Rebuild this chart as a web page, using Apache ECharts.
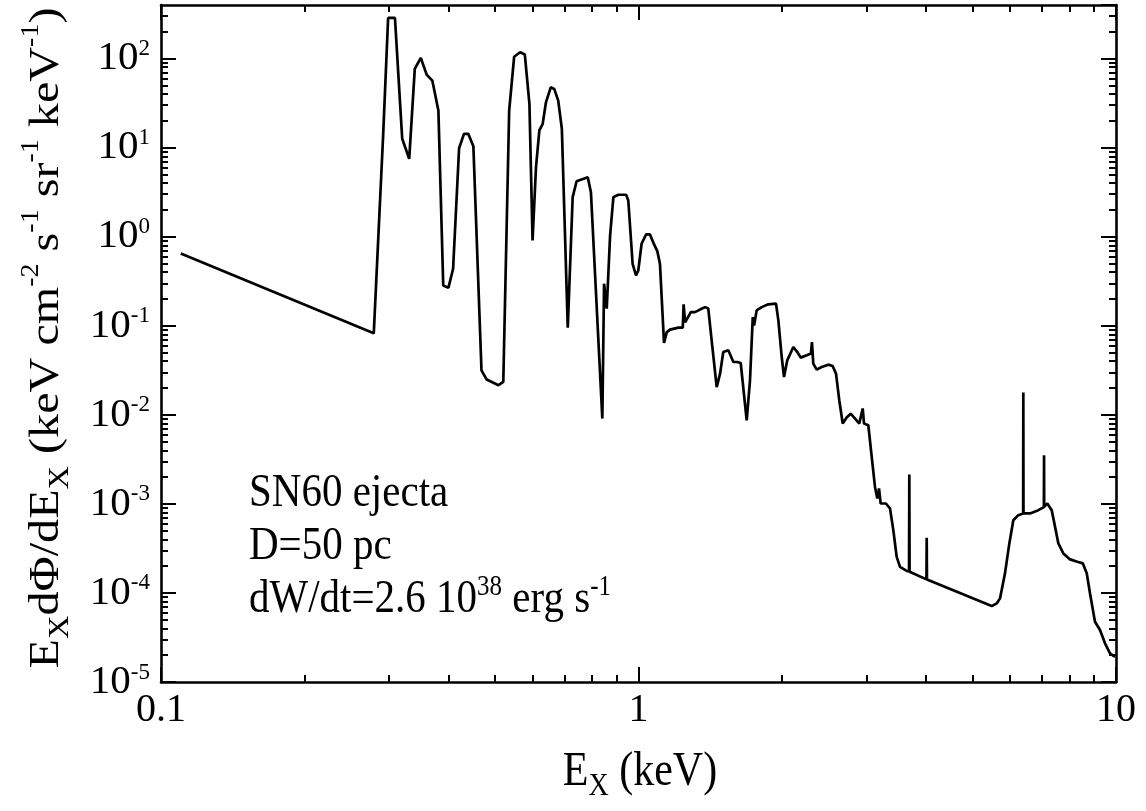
<!DOCTYPE html>
<html>
<head>
<meta charset="utf-8">
<title>SN60 ejecta spectrum</title>
<script src="https://cdn.jsdelivr.net/npm/echarts@6/dist/echarts.min.js"></script>
<style>
  html, body { margin: 0; padding: 0; background: #fff; }
  #main { width: 1146px; height: 811px; }
</style>
</head>
<body>
<div id="main"></div>
<script>
// photon energy (keV) and E dPhi/dE (keV cm^-2 s^-1 sr^-1 keV^-1)
var energy = [
  0.110, 0.279, 0.292, 0.299, 0.309, 0.320, 0.331, 0.340, 0.350, 0.360,
  0.370, 0.381, 0.390, 0.400, 0.409, 0.421, 0.431, 0.440, 0.451, 0.469,
  0.481, 0.509, 0.521, 0.536, 0.549, 0.565, 0.578, 0.591, 0.600, 0.610,
  0.620, 0.630, 0.640, 0.655, 0.666, 0.679, 0.691, 0.711, 0.728, 0.742,
  0.783, 0.795, 0.840, 0.847, 0.858, 0.872, 0.886, 0.907, 0.942, 0.952,
  0.972, 0.988, 0.999, 1.015, 1.037, 1.057, 1.078, 1.095, 1.109, 1.131,
  1.146, 1.164, 1.212, 1.238, 1.243, 1.252, 1.287, 1.313, 1.345, 1.378,
  1.400, 1.428, 1.458, 1.482, 1.505, 1.542, 1.580, 1.610, 1.637, 1.685,
  1.712, 1.735, 1.746, 1.768, 1.811, 1.870, 1.941, 1.963, 1.995, 2.017,
  2.049, 2.110, 2.151, 2.186, 2.250, 2.297, 2.308, 2.323, 2.361, 2.419,
  2.497, 2.550, 2.592, 2.633, 2.677, 2.729, 2.782, 2.841, 2.900, 2.948,
  2.967, 3.029, 3.079, 3.128, 3.163, 3.189, 3.215, 3.298, 3.363, 3.417,
  3.473, 3.529, 3.645, 3.686, 3.691, 3.696, 4.009, 4.014, 4.019, 5.491,
  5.626, 5.716, 5.763, 5.855, 5.979, 6.095, 6.243, 6.391, 6.396, 6.401,
  6.606, 6.876, 7.063, 7.068, 7.073, 7.181, 7.335, 7.454, 7.573, 7.757,
  8.013, 8.299, 8.519, 8.684, 8.823, 9.036, 9.257, 9.484, 9.714, 9.950
];
var flux = [
  0.649, 0.0822, 14.4, 286, 286, 12.6, 7.50, 76.6, 102, 66.2,
  56.7, 26.1, 0.284, 0.268, 0.437, 9.86, 14.3, 14.3, 10.4, 0.0316,
  0.0249, 0.0215, 0.0234, 26.1, 105, 118, 111, 31.0, 0.908, 6.03,
  15.6, 18.5, 32.3, 47.6, 45.7, 33.8, 16.3, 0.0953, 2.78, 4.20,
  4.66, 3.16, 0.00908, 0.297, 0.156, 1.03, 2.78, 2.96, 2.96, 2.55,
  0.497, 0.368, 0.418, 0.834, 1.06, 1.06, 0.819, 0.689, 0.497, 0.0640,
  0.0850, 0.0904, 0.0953, 0.0953, 0.174, 0.109, 0.1425, 0.1425, 0.152, 0.162,
  0.156, 0.0577, 0.0205, 0.0290, 0.0507, 0.0530, 0.0392, 0.0392, 0.0382, 0.00869,
  0.0244, 0.125, 0.101, 0.149, 0.162, 0.174, 0.177, 0.115, 0.0446, 0.0266,
  0.0409, 0.0577, 0.0507, 0.0439, 0.0466, 0.0487, 0.0657, 0.0376, 0.0322, 0.0344,
  0.0366, 0.0353, 0.0290, 0.0146, 0.00798, 0.00932, 0.0103, 0.00908, 0.00798, 0.0118,
  0.00798, 0.00764, 0.00337, 0.00155, 0.00115, 0.00149, 0.00101, 0.00101, 0.000888, 0.000507,
  0.000254, 0.000196, 0.000177, 0.000175, 0.00214, 0.000173, 0.000142, 0.000416, 0.000142, 0.0000712,
  0.0000763, 0.0000869, 0.000108, 0.000166, 0.000360, 0.000656, 0.000747, 0.000780, 0.0178, 0.000781,
  0.000781, 0.000850, 0.000920, 0.00352, 0.000925, 0.00101, 0.000850, 0.000552, 0.000360, 0.000278,
  0.000238, 0.000224, 0.000215, 0.000166, 0.0000988, 0.0000475, 0.0000383, 0.0000272, 0.0000210, 0.0000192
];

var xMin = 0.1, xMax = 10;
var yMin = 1e-5, yMax = 400;
var xDecades = [0.1, 1];
var yDecades = [1e-5, 1e-4, 1e-3, 1e-2, 1e-1, 1, 10, 100];
var minorSteps = [2, 3, 4, 5, 6, 7, 8, 9];
var xTitle = 'E{sub|X} (keV)';
var yTitle = 'E{sub|X}d\u03A6/dE{sub|X} (keV cm{sup|-2} s{sup|-1} sr{sup|-1} keV{sup|-1})';
var notes = ['SN60 ejecta', 'D=50 pc', 'dW/dt=2.6 10{sup|38} erg s{sup|-1}'];

var FONT = 'Liberation Serif';
var BLACK = '#000';
// the source lettering is a little taller than wide
var STRETCH = 1.15;

function minorTicks(decades, hi) {
  var out = [];
  decades.forEach(function (d) {
    minorSteps.forEach(function (k) {
      var v = k * d;
      if (v < hi) out.push(Math.log10(v));
    });
  });
  return out;
}

var xMinorLog = minorTicks(xDecades, xMax);
var yMinorLog = minorTicks(yDecades, yMax);

var seriesData = [];
for (var i = 0; i < energy.length; i++) {
  seriesData.push([energy[i], flux[i]]);
}

// major ticks on a log axis, minor ticks on an overlaid value axis in log space
function majorX(pos, withLabels) {
  return {
    type: 'log', logBase: 10, min: xMin, max: xMax, position: pos, gridIndex: 0,
    axisLine: { show: true, onZero: false, lineStyle: { color: BLACK, width: 2.6 } },
    axisTick: { show: true, inside: true, length: 15, lineStyle: { color: BLACK, width: 2 } },
    axisLabel: {
      show: withLabels, margin: 8, fontFamily: FONT, fontSize: 40, color: BLACK,
      formatter: function (v) { return String(+v.toPrecision(3)); }
    },
    splitLine: { show: false }, minorTick: { show: false }
  };
}
function minorX(pos) {
  return {
    type: 'value', min: -1, max: 1, position: pos, gridIndex: 0,
    axisLine: { show: false, onZero: false },
    axisTick: { show: true, inside: true, length: 7, customValues: xMinorLog, lineStyle: { color: BLACK, width: 2 } },
    axisLabel: { show: false }, splitLine: { show: false }
  };
}
function majorY(pos, withLabels) {
  return {
    type: 'log', logBase: 10, min: yMin, max: yMax, position: pos, gridIndex: 0,
    axisLine: { show: true, onZero: false, lineStyle: { color: BLACK, width: 2.6 } },
    axisTick: { show: true, inside: true, length: 15, lineStyle: { color: BLACK, width: 2 } },
    axisLabel: {
      show: withLabels, margin: 11, fontFamily: FONT, fontSize: 41, color: BLACK, lineHeight: 42,
      showMaxLabel: false,
      formatter: function (v) { return '10{sup|' + Math.round(Math.log10(v)) + '}'; },
      rich: { sup: { fontSize: 23, fontFamily: FONT, color: BLACK, verticalAlign: 'top', lineHeight: 23 } }
    },
    splitLine: { show: false }, minorTick: { show: false }
  };
}
function minorY(pos) {
  return {
    type: 'value', min: -5, max: Math.log10(yMax), position: pos, gridIndex: 0,
    axisLine: { show: false, onZero: false },
    axisTick: { show: true, inside: true, length: 7, customValues: yMinorLog, lineStyle: { color: BLACK, width: 2 } },
    axisLabel: { show: false }, splitLine: { show: false }
  };
}

var graphics = [
  {
    type: 'text', x: 47, y: 338, rotation: Math.PI / 2, scaleX: 1.12, z: 10,
    style: {
      text: yTitle, fontFamily: FONT, fontSize: 43, fill: BLACK,
      align: 'center', verticalAlign: 'middle', lineHeight: 56,
      rich: {
        sub: { fontSize: 29, fontFamily: FONT, fill: BLACK, verticalAlign: 'bottom', lineHeight: 29 },
        sup: { fontSize: 25, fontFamily: FONT, fill: BLACK, verticalAlign: 'top', lineHeight: 25 }
      }
    }
  },
  {
    type: 'text', x: 640, y: 772, scaleY: STRETCH, z: 10,
    style: {
      text: xTitle, fontFamily: FONT, fontSize: 42, fill: BLACK,
      align: 'center', verticalAlign: 'middle', lineHeight: 54,
      rich: { sub: { fontSize: 28, fontFamily: FONT, fill: BLACK, verticalAlign: 'bottom', lineHeight: 28 } }
    }
  }
];
notes.forEach(function (t, k) {
  graphics.push({
    type: 'text', x: 249, y: 494 + 53 * k, scaleY: STRETCH, z: 10,
    style: {
      text: t, fontFamily: FONT, fontSize: 41, fill: BLACK,
      align: 'left', verticalAlign: 'middle', lineHeight: 46,
      rich: { sup: { fontSize: 25, fontFamily: FONT, fill: BLACK, verticalAlign: 'top', lineHeight: 25 } }
    }
  });
});

var chart = echarts.init(document.getElementById('main'), null, { renderer: 'canvas' });
var option = {
  animation: false,
  backgroundColor: '#fff',
  textStyle: { fontFamily: FONT },
  grid: { left: 161, right: 30, top: 5, bottom: 129, containLabel: false, outerBoundsMode: 'none' },
  xAxis: [majorX('bottom', true), minorX('bottom'), majorX('top', false), minorX('top')],
  yAxis: [majorY('left', true), minorY('left'), majorY('right', false), minorY('right')],
  graphic: graphics,
  series: [{
    type: 'line', xAxisIndex: 0, yAxisIndex: 0,
    data: seriesData, showSymbol: false, symbol: 'none', smooth: false,
    lineStyle: { color: BLACK, width: 2.7 }, clip: true
  }]
};
chart.setOption(option);
</script>
</body>
</html>
